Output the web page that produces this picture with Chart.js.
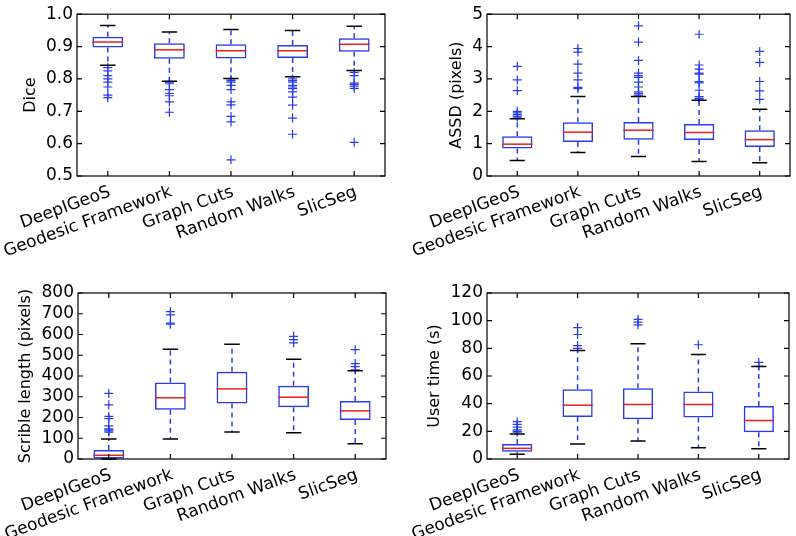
<!DOCTYPE html>
<html>
<head>
<meta charset="utf-8">
<script src="https://cdn.jsdelivr.net/npm/chart.js@4/dist/chart.umd.min.js"></script>
<style>
  body { margin: 0; background: #fff; }
  .p { position: absolute; width: 398px; height: 268px; }
</style>
</head>
<body>
<div class="p" style="left:0;top:0"><canvas id="dice" width="398" height="268"></canvas></div>
<div class="p" style="left:398px;top:0"><canvas id="assd" width="398" height="268"></canvas></div>
<div class="p" style="left:0;top:268px"><canvas id="scrib" width="398" height="268"></canvas></div>
<div class="p" style="left:398px;top:268px"><canvas id="utime" width="398" height="268"></canvas></div>
<script>
const methods = ['DeepIGeoS', 'Geodesic Framework', 'Graph Cuts', 'Random Walks', 'SlicSeg'];

// per method: [lower whisker, q1, median, q3, upper whisker]
const diceStats = [
  [0.842, 0.897, 0.914, 0.930, 0.965],
  [0.793, 0.862, 0.890, 0.910, 0.945],
  [0.801, 0.863, 0.887, 0.907, 0.953],
  [0.807, 0.865, 0.887, 0.905, 0.950],
  [0.826, 0.884, 0.907, 0.926, 0.963]
];
const diceFliers = [
  [0.835, 0.825, 0.81, 0.80, 0.79, 0.775, 0.75, 0.742],
  [0.79, 0.785, 0.767, 0.755, 0.748, 0.729, 0.697],
  [0.80, 0.795, 0.79, 0.78, 0.767, 0.729, 0.72, 0.684, 0.667, 0.55],
  [0.80, 0.795, 0.79, 0.78, 0.775, 0.77, 0.76, 0.744, 0.719, 0.679, 0.629],
  [0.82, 0.81, 0.787, 0.783, 0.778, 0.771, 0.604]
];

const assdStats = [
  [0.48, 0.853, 0.984, 1.225, 1.77],
  [0.723, 1.054, 1.355, 1.66, 2.46],
  [0.60, 1.124, 1.416, 1.667, 2.46],
  [0.45, 1.114, 1.345, 1.606, 2.34],
  [0.41, 0.90, 1.124, 1.416, 2.06]
];
const assdFliers = [
  [3.39, 2.97, 2.64, 2.0, 1.95, 1.9, 1.85, 1.82],
  [3.94, 3.83, 3.46, 3.18, 2.97, 2.74, 2.70],
  [4.64, 4.14, 3.57, 3.18, 3.1, 3.05, 2.9, 2.75, 2.6, 2.55, 2.5],
  [4.38, 3.43, 3.3, 3.18, 3.15, 2.92, 2.88, 2.65, 2.45, 2.4, 2.38],
  [3.85, 3.51, 2.92, 2.63, 2.37]
];

const scribStats = [
  [0, 2, 18, 43, 96],
  [96, 237, 295, 369, 529],
  [130, 268, 338, 421, 553],
  [127, 250, 298, 353, 481],
  [74, 188, 232, 280, 425]
];
const scribFliers = [
  [316, 261, 205, 195, 160, 145, 140, 135, 130],
  [710, 695, 655, 650],
  [],
  [591, 575, 560],
  [527, 460, 445, 430]
];

const timeStats = [
  [3.4, 5.3, 7.7, 10.9, 18.1],
  [10.9, 30.4, 38.9, 50.5, 78.5],
  [13.0, 28.7, 39.4, 51.2, 83.3],
  [8.2, 30.0, 39.4, 48.8, 75.6],
  [7.5, 19.3, 27.8, 38.4, 66.9]
];
const timeFliers = [
  [27, 25, 23, 21, 20, 19.5],
  [95, 90, 82, 80],
  [101, 99, 97],
  [82.6],
  [69.8, 67]
];

const BLUE = 'rgb(40,60,235)';
const RED = 'rgb(235,30,30)';

Chart.defaults.font.family = 'DejaVu Sans';
Chart.defaults.color = '#000';

// whiskers, caps, medians and the classic inward-tick frame
function boxExtras(stats) {
  return {
    id: 'boxExtras',
    afterDatasetsDraw(chart) {
      const ctx = chart.ctx;
      const xs = chart.scales.x, ys = chart.scales.y;
      const bars = chart.getDatasetMeta(0).data;
      const a = chart.chartArea;
      ctx.save();
      stats.forEach((s, i) => {
        const el = bars[i];
        const x = el.x, w = el.width;
        const py = v => ys.getPixelForValue(v);
        ctx.lineWidth = 1.5;
        ctx.strokeStyle = BLUE;
        ctx.setLineDash([5, 4]);
        ctx.beginPath();
        ctx.moveTo(x, py(s[3])); ctx.lineTo(x, py(s[4]));
        ctx.moveTo(x, py(s[1])); ctx.lineTo(x, py(s[0]));
        ctx.stroke();
        ctx.setLineDash([]);
        ctx.strokeStyle = '#000';
        ctx.beginPath();
        ctx.moveTo(x - w / 4, py(s[4])); ctx.lineTo(x + w / 4, py(s[4]));
        ctx.moveTo(x - w / 4, py(s[0])); ctx.lineTo(x + w / 4, py(s[0]));
        ctx.stroke();
        ctx.strokeStyle = RED;
        ctx.beginPath();
        ctx.moveTo(x - w / 2, py(s[2])); ctx.lineTo(x + w / 2, py(s[2]));
        ctx.stroke();
      });
      ctx.strokeStyle = '#000';
      ctx.lineWidth = 1.2;
      ctx.strokeRect(a.left, a.top, a.right - a.left, a.bottom - a.top);
      ctx.beginPath();
      ys.ticks.forEach((t, i) => {
        const y = ys.getPixelForTick(i);
        ctx.moveTo(a.left, y); ctx.lineTo(a.left + 5, y);
        ctx.moveTo(a.right, y); ctx.lineTo(a.right - 5, y);
      });
      xs.ticks.forEach((t, i) => {
        const x = xs.getPixelForTick(i);
        ctx.moveTo(x, a.bottom); ctx.lineTo(x, a.bottom - 5);
        ctx.moveTo(x, a.top); ctx.lineTo(x, a.top + 5);
      });
      ctx.stroke();
      ctx.restore();
    }
  };
}

function makeBox(id, stats, fliers, cfg) {
  const pts = [];
  fliers.forEach((list, i) => list.forEach(v => pts.push({ x: methods[i], y: v })));
  new Chart(document.getElementById(id), {
    type: 'bar',
    data: {
      labels: methods,
      datasets: [{
        data: stats.map(s => [s[1], s[3]]),
        backgroundColor: 'rgba(0,0,0,0)',
        borderColor: BLUE,
        borderWidth: 1.5,
        borderSkipped: false,
        barPercentage: 0.5,
        categoryPercentage: 1.0
      }, {
        type: 'line',
        data: pts,
        showLine: false,
        pointStyle: 'cross',
        pointRadius: 4.5,
        pointBorderWidth: 1.2,
        borderColor: BLUE,
        backgroundColor: BLUE
      }]
    },
    options: {
      responsive: false,
      animation: false,
      devicePixelRatio: 1,
      layout: { padding: { top: cfg.top, right: cfg.right, left: 0, bottom: 0 } },
      plugins: { legend: { display: false }, tooltip: { enabled: false } },
      scales: {
        x: {
          offset: true,
          grid: { display: false, drawTicks: false },
          border: { display: false },
          ticks: { font: { size: 17 }, minRotation: 20, maxRotation: 20, autoSkip: false,
                   padding: 6, labelOffset: 2 },
          afterFit: s => { s.height = cfg.xh; }
        },
        y: {
          min: cfg.min, max: cfg.max,
          grid: { display: false, drawTicks: false },
          border: { display: false },
          ticks: { font: { size: 17 }, stepSize: cfg.step, padding: 4, autoSkip: false,
                   callback: v => v.toFixed(cfg.dec) },
          title: { display: true, text: cfg.title, font: { size: 16 }, padding: { top: cfg.tp, bottom: 0 } },
          afterFit: s => { s.width = cfg.yw; }
        }
      }
    },
    plugins: [boxExtras(stats)]
  });
}

makeBox('dice', diceStats, diceFliers,
  { title: 'Dice', min: 0.5, max: 1.0, step: 0.1, dec: 1, top: 10, right: 13, xh: 92, yw: 77, tp: 21 });
makeBox('assd', assdStats, assdFliers,
  { title: 'ASSD (pixels)', min: 0, max: 5, step: 1, dec: 0, top: 10, right: 6, xh: 92, yw: 89, tp: 49 });
makeBox('scrib', scribStats, scribFliers,
  { title: 'Scrible length (pixels)', min: 0, max: 800, step: 100, dec: 0, top: 25, right: 12, xh: 77, yw: 78, tp: 16 });
makeBox('utime', timeStats, timeFliers,
  { title: 'User time (s)', min: 0, max: 120, step: 20, dec: 0, top: 25, right: 7, xh: 77, yw: 89, tp: 27 });
</script>
</body>
</html>
